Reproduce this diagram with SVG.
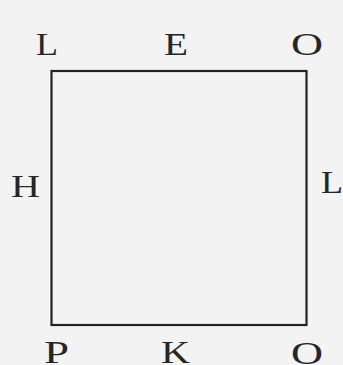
<svg xmlns="http://www.w3.org/2000/svg" width="343" height="365" viewBox="0 0 343 365">
<style>
.lbl{font-family:"Liberation Serif","DejaVu Serif",serif;font-size:32px;fill:#262626;}
.sq{fill:none;stroke:#222;stroke-width:2.2;}
</style>
<rect x="0" y="0" width="343" height="365" fill="#f3f3f3"/>
<g id="square"><rect class="sq" x="51.5" y="71" width="255" height="254"/></g>
<g id="labels">
<text class="lbl" x="36" y="55" textLength="22" lengthAdjust="spacingAndGlyphs">L</text>
<text class="lbl" x="164" y="55" textLength="24" lengthAdjust="spacingAndGlyphs">E</text>
<text class="lbl" x="291" y="55" textLength="32" lengthAdjust="spacingAndGlyphs">O</text>
<text class="lbl" x="11" y="197" textLength="29" lengthAdjust="spacingAndGlyphs">H</text>
<text class="lbl" x="321" y="193" textLength="22" lengthAdjust="spacingAndGlyphs">L</text>
<text class="lbl" x="44" y="363" textLength="25" lengthAdjust="spacingAndGlyphs">P</text>
<text class="lbl" x="161" y="363" textLength="29" lengthAdjust="spacingAndGlyphs">K</text>
<text class="lbl" x="291" y="364" textLength="32" lengthAdjust="spacingAndGlyphs">O</text>
</g>
</svg>
